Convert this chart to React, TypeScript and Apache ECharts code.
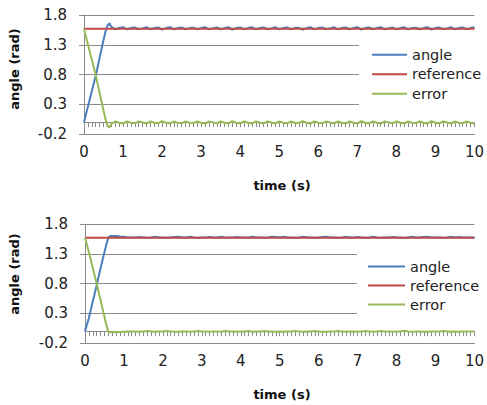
import React, { useEffect, useRef } from "react";
import * as echarts from "echarts";

// ---------- data ----------
const xTickLabels = [0, 1, 2, 3, 4, 5, 6, 7, 8, 9, 10];
const yTickLabels = [-0.2, 0.3, 0.8, 1.3, 1.8];
const seriesNames = ["angle", "reference", "error"];

// reference (constant target)
const referenceTime = [0, 10];
const referenceValue = [1.5708, 1.5708];

// transient part (time in s)
const transientTime = [0, 0.1, 0.2, 0.3, 0.4, 0.5, 0.55, 0.6, 0.65, 0.7];
const topAngleTransient = [0, 0.26, 0.52, 0.78, 1.08, 1.38, 1.52, 1.62, 1.66, 1.6];
const topErrorTransient = [1.57, 1.31, 1.05, 0.79, 0.49, 0.19, 0.05, -0.06, -0.09, -0.03];
const bottomAngleTransient = [0, 0.22, 0.5, 0.77, 1.06, 1.33, 1.46, 1.57, 1.6, 1.6];
const bottomErrorTransient = [1.57, 1.33, 1.06, 0.8, 0.52, 0.24, 0.1, -0.01, -0.02, -0.02];

// steady part: samples every 0.1 s from 0.8 s to 10 s
const steadyStart = 0.8;
const steadyStep = 0.1;
const topAngleSteady = [
  1.56, 1.58, 1.595, 1.56, 1.58, 1.59, 1.56, 1.575, 1.595, 1.56, 1.58, 1.59,
  1.555, 1.58, 1.595, 1.56, 1.58, 1.59, 1.56, 1.58, 1.585, 1.56, 1.58, 1.595,
  1.56, 1.575, 1.59, 1.56, 1.58, 1.595, 1.555, 1.58, 1.59, 1.56, 1.58, 1.595,
  1.56, 1.58, 1.59, 1.56, 1.575, 1.595, 1.56, 1.58, 1.59, 1.56, 1.58, 1.585,
  1.555, 1.58, 1.595, 1.56, 1.58, 1.59, 1.56, 1.575, 1.595, 1.56, 1.58, 1.59,
  1.56, 1.58, 1.595, 1.555, 1.58, 1.59, 1.56, 1.58, 1.595, 1.56, 1.575, 1.59,
  1.56, 1.58, 1.595, 1.56, 1.58, 1.585, 1.56, 1.58, 1.595, 1.555, 1.58, 1.59,
  1.56, 1.575, 1.595, 1.56, 1.58, 1.59, 1.56, 1.58, 1.595,
];
const topErrorSteady = [
  0.01, -0.01, -0.025, 0.01, -0.01, -0.02, 0.01, -0.005, -0.025, 0.01, -0.01, -0.02,
  0.015, -0.01, -0.025, 0.01, -0.01, -0.02, 0.01, -0.01, -0.015, 0.01, -0.01, -0.025,
  0.01, -0.005, -0.02, 0.01, -0.01, -0.025, 0.015, -0.01, -0.02, 0.01, -0.01, -0.025,
  0.01, -0.01, -0.02, 0.01, -0.005, -0.025, 0.01, -0.01, -0.02, 0.01, -0.01, -0.015,
  0.015, -0.01, -0.025, 0.01, -0.01, -0.02, 0.01, -0.005, -0.025, 0.01, -0.01, -0.02,
  0.01, -0.01, -0.025, 0.015, -0.01, -0.02, 0.01, -0.01, -0.025, 0.01, -0.005, -0.02,
  0.01, -0.01, -0.025, 0.01, -0.01, -0.015, 0.01, -0.01, -0.025, 0.015, -0.01, -0.02,
  0.01, -0.005, -0.025, 0.01, -0.01, -0.02, 0.01, -0.01, -0.025,
];
const bottomAngleSteady = [
  1.6, 1.59, 1.585, 1.575, 1.575, 1.575, 1.58, 1.575, 1.57, 1.575, 1.585, 1.575,
  1.575, 1.57, 1.575, 1.58, 1.585, 1.575, 1.575, 1.585, 1.575, 1.57, 1.575, 1.575,
  1.58, 1.575, 1.575, 1.585, 1.57, 1.575, 1.575, 1.58, 1.575, 1.575, 1.57, 1.585,
  1.575, 1.575, 1.57, 1.575, 1.585, 1.58, 1.575, 1.585, 1.575, 1.575, 1.57, 1.575,
  1.585, 1.575, 1.575, 1.57, 1.575, 1.58, 1.585, 1.575, 1.575, 1.57, 1.575, 1.585,
  1.575, 1.575, 1.58, 1.575, 1.57, 1.575, 1.585, 1.575, 1.57, 1.575, 1.575, 1.58,
  1.575, 1.575, 1.565, 1.575, 1.585, 1.575, 1.575, 1.58, 1.585, 1.575, 1.575, 1.575,
  1.57, 1.575, 1.585, 1.575, 1.58, 1.575, 1.575, 1.575, 1.575,
];
const bottomErrorSteady = [
  -0.02, -0.015, -0.01, -0.005, -0.005, -0.005, -0.01, -0.005, 0, -0.005, -0.01, -0.005,
  -0.005, 0, -0.005, -0.01, -0.01, -0.005, -0.005, -0.01, -0.005, 0, -0.005, -0.005,
  -0.01, -0.005, -0.005, -0.01, 0, -0.005, -0.005, -0.01, -0.005, -0.005, 0, -0.01,
  -0.005, -0.005, 0, -0.005, -0.01, -0.01, -0.005, -0.01, -0.005, -0.005, 0, -0.005,
  -0.01, -0.005, -0.005, 0, -0.005, -0.01, -0.01, -0.005, -0.005, 0, -0.005, -0.01,
  -0.005, -0.005, -0.01, -0.005, 0, -0.005, -0.01, -0.005, 0, -0.005, -0.005, -0.01,
  -0.005, -0.005, 0.005, -0.005, -0.01, -0.005, -0.005, -0.01, -0.01, -0.005, -0.005, -0.005,
  0, -0.005, -0.01, -0.005, -0.01, -0.005, -0.005, -0.005, -0.005,
];

// ---------- helpers ----------
function buildSeries(transient: number[], steady: number[]): number[][] {
  const pts: number[][] = transient.map((v, i) => [transientTime[i], v]);
  steady.forEach((v, i) => {
    pts.push([Math.round((steadyStart + i * steadyStep) * 100) / 100, v]);
  });
  return pts;
}
const referencePoints = referenceTime.map((t, i) => [t, referenceValue[i]]);

const COLORS = ["#4A7EBB", "#BE4B48", "#98B954"];
const GRID_COLOR = "#8a8a8a";
const FONT = "DejaVu Sans";

export default function App() {
  const ref = useRef<HTMLDivElement>(null);
  useEffect(() => {
    if (!ref.current) return;
    const chart = echarts.init(ref.current, undefined, { renderer: "svg" });

    const grids = [
      { left: 84, top: 15, width: 395, height: 119 },
      { left: 85, top: 224, width: 394, height: 119 },
    ];

    const xAxes: any[] = [];
    const yAxes: any[] = [];
    [0, 1].forEach((g) => {
      xAxes.push({
        gridIndex: g,
        type: "value",
        min: xTickLabels[0],
        max: xTickLabels[xTickLabels.length - 1],
        interval: 1,
        position: "bottom",
        axisLine: { show: true, onZero: false, lineStyle: { color: GRID_COLOR, width: 1 } },
        axisTick: { show: false },
        splitLine: { show: false },
        axisLabel: { margin: 10, fontSize: 15, color: "#222", fontFamily: FONT },
      });
      xAxes.push({
        gridIndex: g,
        type: "value",
        min: 0,
        max: 10,
        interval: 0.1,
        position: "bottom",
        axisLine: { show: true, onZero: true, lineStyle: { color: GRID_COLOR, width: 1 } },
        axisTick: { show: true, length: 5, lineStyle: { color: GRID_COLOR, width: 1 } },
        axisLabel: { show: false },
        splitLine: { show: false },
      });
      yAxes.push({
        gridIndex: g,
        type: "value",
        min: yTickLabels[0],
        max: yTickLabels[yTickLabels.length - 1],
        interval: 0.5,
        axisLine: { show: true, lineStyle: { color: GRID_COLOR, width: 1 } },
        axisTick: { show: true, length: 5, lineStyle: { color: GRID_COLOR } },
        splitLine: { show: true, lineStyle: { color: GRID_COLOR, width: 1 } },
        axisLabel: {
          margin: 17,
          fontSize: 15,
          color: "#222",
          fontFamily: FONT,
          formatter: (v: number) => v.toFixed(1),
        },
      });
    });

    const mk = (name: string, data: number[][], g: number, ci: number) => ({
      name,
      type: "line",
      xAxisIndex: g * 2,
      yAxisIndex: g,
      data,
      showSymbol: false,
      symbol: "none",
      lineStyle: { color: COLORS[ci], width: 2 },
      itemStyle: { color: COLORS[ci] },
    });

    const series = [
      mk(seriesNames[0], buildSeries(topAngleTransient, topAngleSteady), 0, 0),
      mk(seriesNames[1], referencePoints, 0, 1),
      mk(seriesNames[2], buildSeries(topErrorTransient, topErrorSteady), 0, 2),
      mk(seriesNames[0], buildSeries(bottomAngleTransient, bottomAngleSteady), 1, 0),
      mk(seriesNames[1], referencePoints, 1, 1),
      mk(seriesNames[2], buildSeries(bottomErrorTransient, bottomErrorSteady), 1, 2),
    ];

    const legendBase = {
      orient: "vertical",
      backgroundColor: "#fff",
      icon: "rect",
      itemHeight: 2,
      itemGap: 0,
      selectedMode: false,
      data: seriesNames,
    };

    chart.setOption({
      animation: false,
      grid: grids,
      xAxis: xAxes,
      yAxis: yAxes,
      series,
      legend: [
        {
          ...legendBase,
          left: 359,
          top: 35,
          padding: [10, 4, 4, 13],
          itemWidth: 35,
          textStyle: { fontSize: 14.5, lineHeight: 19.5, color: "#222", fontFamily: FONT },
        },
        {
          ...legendBase,
          left: 357,
          top: 247,
          padding: [10, 4, 4, 11],
          itemWidth: 37,
          textStyle: { fontSize: 14.5, lineHeight: 19, color: "#222", fontFamily: FONT },
        },
      ],
      graphic: [
        {
          type: "text",
          x: 14,
          y: 69,
          rotation: Math.PI / 2,
          style: {
            text: "angle (rad)",
            font: `bold 13px "${FONT}"`,
            fill: "#111",
            textAlign: "center",
            textVerticalAlign: "middle",
          },
        },
        {
          type: "text",
          x: 14,
          y: 274,
          rotation: Math.PI / 2,
          style: {
            text: "angle (rad)",
            font: `bold 13px "${FONT}"`,
            fill: "#111",
            textAlign: "center",
            textVerticalAlign: "middle",
          },
        },
        {
          type: "text",
          x: 282,
          y: 185.5,
          style: {
            text: "time (s)",
            font: `bold 13px "${FONT}"`,
            fill: "#111",
            textAlign: "center",
            textVerticalAlign: "middle",
          },
        },
        {
          type: "text",
          x: 282,
          y: 394,
          style: {
            text: "time (s)",
            font: `bold 13px "${FONT}"`,
            fill: "#111",
            textAlign: "center",
            textVerticalAlign: "middle",
          },
        },
      ],
    });
    return () => chart.dispose();
  }, []);

  return (
    <div
      ref={ref}
      style={{ position: "fixed", left: 0, top: 0, width: 487, height: 405, background: "#fff" }}
    />
  );
}
